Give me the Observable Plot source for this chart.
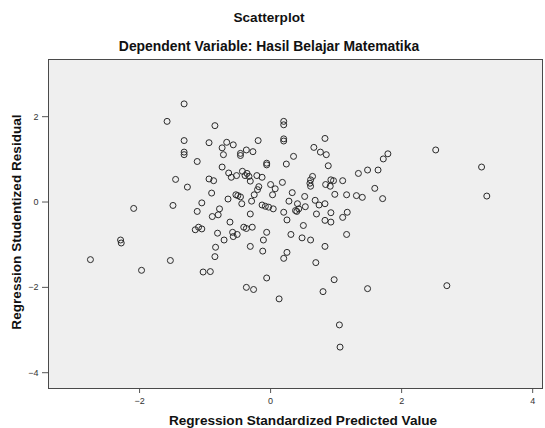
<!DOCTYPE html>
<html>
<head>
<meta charset="utf-8">
<script src="https://cdn.jsdelivr.net/npm/d3@7"></script>
<script src="https://cdn.jsdelivr.net/npm/@observablehq/plot@0.6"></script>
<style>
  html, body { margin: 0; padding: 0; background: #ffffff; }
  #wrap { position: relative; width: 545px; height: 428px; font-family: "Liberation Sans", Arial, sans-serif; }
  .t { position: absolute; white-space: nowrap; font-weight: bold; color: #111; font-size: 13.6px; line-height: 16px; }
</style>
</head>
<body>
<div id="wrap">
  <div id="chart"></div>
  <div class="t" id="title" style="left:0;width:538px;top:10px;text-align:center;">Scatterplot</div>
  <div class="t" id="subtitle" style="left:0;width:538px;top:38px;text-align:center;font-size:13.9px;">Dependent Variable: Hasil Belajar Matematika</div>
  <div class="t" id="xlabel" style="left:48px;width:510px;top:413px;text-align:center;">Regression Standardized Predicted Value</div>
  <div class="t" id="ylabel" style="left:17px;top:222px;transform:translate(-50%,-50%) rotate(-90deg);">Regression Studentized Residual</div>
</div>
<script>
const xTicks = [-2, 0, 2, 4];
const yTicks = [-4, -2, 0, 2];

// Regression Standardized Predicted Value
const predicted = [
  -1.32, -1.58, -0.85, 0.20, 0.20, -1.32, -1.32, -1.32, -1.12, -0.94,
  -0.67, -0.57, -0.74, -0.19, 0.20, 0.20, 0.83, 0.66, -0.72, -0.46,
  -0.46, -0.37, -0.27, 0.35, 0.76, 0.85, -0.06, -0.06, 0.24, 0.88,
  -0.74, 1.79, 1.72, 2.52, 3.22, 1.34, 1.48, 1.64, -0.64, -0.60,
  -0.52, -0.43, -0.36, -0.39, -0.33, -0.21, -0.13, -0.94, -0.87, -0.31,
  -1.45, 0.18, 0.64, 0.61, 0.60, 0.61, 0.92, 0.96, 0.84, 0.91,
  1.10, 1.59, 0.00, 0.07, -0.18, -0.20, -1.27, -0.90, 0.33, 0.03,
  -0.25, -0.53, -0.50, -0.46, -0.65, -1.05, -1.49, -2.09, -0.29, -0.44,
  -0.13, -0.08, -0.03, 0.04, 0.28, 0.52, 0.98, 1.16, 1.31, 1.40,
  1.71, 3.30, 0.68, 0.74, 0.83, 0.41, 0.43, 0.38, 0.40, 0.53,
  -0.78, -1.12, -0.80, -0.89, -0.31, 0.20, 0.25, 0.70, 0.92, 1.17,
  1.10, 0.83, 0.92, -0.62, -1.10, -1.05, -1.15, -0.41, -0.37, -0.28,
  0.50, -0.81, -0.58, -0.57, -0.51, -0.06, 0.31, 1.16, -0.71, -0.11,
  0.48, 0.61, -2.29, -2.28, -0.84, -0.31, -0.12, 0.25, 0.20, 0.83,
  -0.85, 0.69, -2.75, -1.53, -1.97, -1.03, -0.92, -0.06, 0.97, -0.37,
  -0.26, 0.80, 1.48, 2.69, 0.13, 1.05, 1.06
];

// Regression Studentized Residual
const residual = [
  2.30, 1.89, 1.79, 1.89, 1.81, 1.44, 1.17, 1.11, 0.95, 1.39,
  1.40, 1.34, 1.27, 1.44, 1.48, 1.43, 1.49, 1.28, 1.11, 1.14,
  1.09, 1.22, 1.18, 1.07, 1.17, 1.11, 0.91, 0.87, 0.89, 0.85,
  0.82, 1.13, 1.01, 1.22, 0.82, 0.67, 0.75, 0.75, 0.68, 0.58,
  0.62, 0.72, 0.67, 0.62, 0.60, 0.62, 0.58, 0.54, 0.50, 0.49,
  0.53, 0.46, 0.60, 0.52, 0.44, 0.37, 0.52, 0.50, 0.41, 0.37,
  0.50, 0.32, 0.41, 0.31, 0.36, 0.29, 0.35, 0.21, 0.22, 0.17,
  0.17, 0.17, 0.15, 0.12, 0.07, -0.02, -0.08, -0.15, 0.02, -0.04,
  -0.07, -0.10, -0.12, -0.16, 0.02, 0.13, 0.18, 0.17, 0.15, 0.11,
  0.08, 0.14, 0.04, -0.07, -0.04, -0.04, -0.16, -0.20, -0.22, -0.11,
  -0.16, -0.22, -0.30, -0.34, -0.28, -0.24, -0.42, -0.28, -0.25, -0.24,
  -0.36, -0.43, -0.47, -0.47, -0.59, -0.63, -0.65, -0.59, -0.62, -0.59,
  -0.55, -0.73, -0.71, -0.81, -0.76, -0.71, -0.76, -0.76, -0.89, -0.89,
  -0.84, -0.89, -0.89, -0.96, -1.06, -1.04, -1.15, -1.18, -1.32, -1.04,
  -1.28, -1.42, -1.35, -1.37, -1.60, -1.64, -1.63, -1.78, -1.82, -2.00,
  -2.05, -2.10, -2.03, -1.96, -2.27, -2.88, -3.40
];

const points = predicted.map((x, i) => ({x, y: residual[i]}));

const chart = Plot.plot({
  width: 545,
  height: 428,
  marginTop: 59,
  marginLeft: 48,
  marginRight: 3,
  marginBottom: 40,
  style: {background: "transparent", fontFamily: "Liberation Sans, Arial, sans-serif", color: "#333"},
  x: {domain: [-3.39, 4.15], ticks: xTicks, label: null},
  y: {domain: [-4.37, 3.34], ticks: yTicks, label: null},
  marks: [
    Plot.frame({fill: "#efefef", stroke: "none"}),
    Plot.axisX(xTicks, {tickSize: 5, tickPadding: 4, fontSize: 9, stroke: "#555", fill: "#333", label: null}),
    Plot.axisY(yTicks, {tickSize: 6, tickPadding: 4, fontSize: 9, stroke: "#555", fill: "#333", label: null}),
    Plot.dot(points, {x: "x", y: "y", r: 3, stroke: "#2a2a2a", strokeWidth: 1, fill: "none"}),
    Plot.frame({stroke: "#4a4a4a", strokeWidth: 1})
  ]
});
document.getElementById("chart").appendChild(chart);
</script>
</body>
</html>
